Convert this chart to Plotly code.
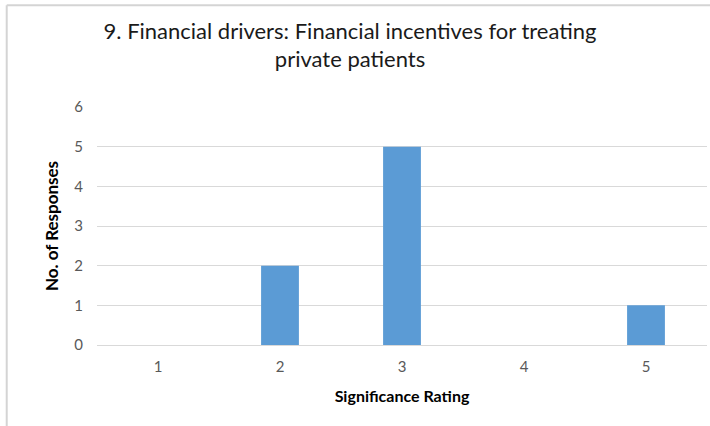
import plotly.graph_objects as go

# Significance ratings and number of responses
ratings = ["1", "2", "3", "4", "5"]
responses = [0, 2, 5, 0, 1]
y_ticks = [0, 1, 2, 3, 4, 5, 6]

fig = go.Figure()
fig.add_trace(go.Bar(x=ratings, y=responses, marker_color="#5B9BD5",
                     marker_line_width=0, hoverinfo="x+y"))

font_family = "Lato, Calibri, Carlito, sans-serif"

fig.update_layout(
    width=710, height=426,
    margin=dict(l=97, r=3, t=107, b=81),
    paper_bgcolor="white", plot_bgcolor="white",
    bargap=0.69,
    showlegend=False,
    font=dict(family=font_family, color="#595959"),
    title=dict(text="9. Financial drivers: Financial incentives for treating<br>private patients",
               x=0.493, xanchor="center", y=0.909, yanchor="middle",
               font=dict(size=22, color="#1a1a1a", family=font_family)),
    xaxis=dict(type="category", showgrid=False, showline=True, linecolor="#D9D9D9",
               ticks="", ticklabelstandoff=8, tickfont=dict(size=15, color="#595959"),
               title=dict(text="<b>Significance Rating</b>", standoff=16,
                          font=dict(size=16, color="#000000"))),
    yaxis=dict(range=[0, 6], tickvals=y_ticks, showgrid=True, gridcolor="#D9D9D9",
               zeroline=False, ticks="", ticklabelstandoff=13,
               tickfont=dict(size=15, color="#595959"),
               title=dict(text="<b>No. of Responses</b>", standoff=11,
                          font=dict(size=17, color="#000000"))),
)

# Outer chart border: top and left edges are what shows in the window
border = dict(color="#D4D4D4", width=2)
fig.add_shape(type="line", xref="paper", yref="paper",
              x0=-0.148, x1=1.2, y0=1.428, y1=1.428, line=border)
fig.add_shape(type="line", xref="paper", yref="paper",
              x0=-0.148, x1=-0.148, y0=-0.6, y1=1.428, line=border)

fig.write_html("out.html", config={"displayModeBar": False},
               post_script="document.body.style.margin='0';")
